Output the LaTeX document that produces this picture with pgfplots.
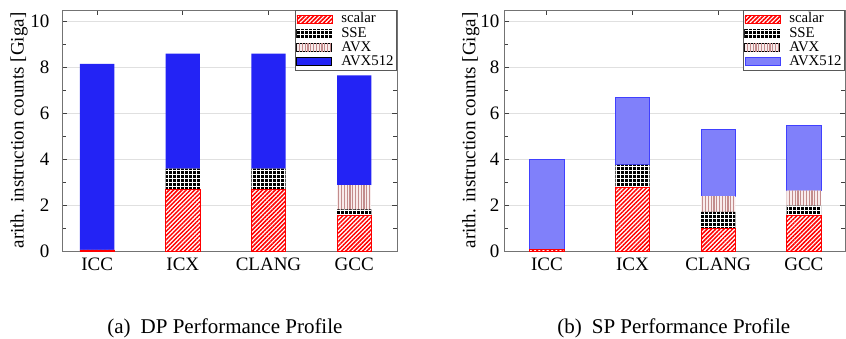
\documentclass[border=0pt]{standalone}
\usepackage{fontspec}
\setmainfont{Liberation Serif}
\usepackage{pgfplots}
\pgfplotsset{compat=1.18}
\usetikzlibrary{patterns.meta}
\definecolor{avxc}{RGB}{195,140,140}
\definecolor{avxbg}{RGB}{248,236,236}
\definecolor{dpblue}{RGB}{35,35,245}
\definecolor{spblue}{RGB}{128,128,250}
\pgfplotsset{
 layers/mylayers/.define layer set={axis background,axis grid,pre main,main,axis ticks,axis lines,axis tick labels,axis descriptions,axis foreground}{},
 sw/.style={legend image code/.code={\draw[##1] (0pt,-2pt) rectangle (17.5pt,2pt);}},
 sscalar/.style={sw, fill=white, draw=red, line width=0.3pt, postaction={pattern={Lines[angle=45,distance=1.5pt,line width=0.75pt]}, pattern color=red}},
 ssse/.style={sw, fill=black, draw=none, postaction={pattern={Hatch[angle=0,distance=2pt,line width=0.18pt]}, pattern color=white}},
 savx/.style={sw, fill=avxbg, draw=none, postaction={pattern={Lines[angle=90,distance=1.4pt,line width=0.55pt]}, pattern color=avxc}},
 base/.style={
  set layers=mylayers,
  ybar stacked, bar width=0.4,
  scale only axis, height=120.5pt,
  ymin=0, ymax=10.48,
  ytick={0,2,...,10}, minor y tick num=1,
  xtick={0,1,2,3}, xticklabels={ICC,ICX,CLANG,GCC},
  ymajorgrids, major grid style={black!12, line width=0.4pt},
  tick align=inside,
  major tick length=2.5pt, minor tick length=2pt,
  tick style={black!75, line width=0.4pt},
  axis line style={black!55, line width=0.5pt},
  tick label style={font=\fontsize{9.5}{11}\selectfont},
  /pgf/number format/assume math mode=true,
  ylabel={arith. instruction counts [Giga]},
  label style={font=\fontsize{9.5}{11}\selectfont},
  legend style={at={(1,1)}, anchor=north east, draw=black!65, line width=0.4pt,
    font=\fontsize{7.4}{8}\selectfont, inner xsep=0.5pt, inner ysep=1pt,
    nodes={inner xsep=1pt, inner ysep=0pt, text height=5.2pt, text depth=1.5pt},
    row sep=0.4pt, column sep=3.5pt},
  legend cell align=left,
 }
}
\begin{document}
\begin{tikzpicture}
\begin{axis}[base, at={(31pt,-5pt)}, anchor=north west, width=167.5pt, xmin=-0.41, xmax=3.5,
  ylabel style={at={(axis description cs:-0.128,0.5)}, anchor=center},
  yticklabel style={xshift=-2.8pt}]
\addplot[sscalar] coordinates {(0,0.05) (1,2.67) (2,2.67) (3,1.55)};
\addplot[ssse] coordinates {(0,0) (1,0.91) (2,0.91) (3,0.26)};
\addplot[savx] coordinates {(0,0) (1,0) (2,0) (3,1.05)};
\addplot[sw, fill=dpblue, draw=none] coordinates {(0,8.09) (1,5.0) (2,5.0) (3,4.78)};
\legend{scalar,SSE,AVX,AVX512}
\end{axis}
\begin{axis}[base, at={(252pt,-5pt)}, anchor=north west, width=170.5pt, xmin=-0.5, xmax=3.48,
  ylabel style={at={(axis description cs:-0.097,0.5)}, anchor=center},
  yticklabel style={xshift=1.2pt}]
\addplot[sscalar] coordinates {(0,0.07) (1,2.75) (2,1.0) (3,1.55)};
\addplot[ssse] coordinates {(0,0) (1,1.0) (2,0.7) (3,0.42)};
\addplot[savx] coordinates {(0,0) (1,0) (2,0.69) (3,0.67)};
\addplot[sw, fill=spblue, draw=blue!75, line width=0.3pt] coordinates {(0,3.93) (1,2.92) (2,2.89) (3,2.82)};
\legend{scalar,SSE,AVX,AVX512}
\end{axis}
\node[anchor=base west, inner sep=0pt, font=\fontsize{10.5}{12}\selectfont] at (53.5pt,-166.5pt) {(a)\hspace{5pt}DP Performance Profile};
\node[anchor=base west, inner sep=0pt, font=\fontsize{10.5}{12}\selectfont] at (278.5pt,-166.5pt) {(b)\hspace{5pt}SP Performance Profile};
\pgfresetboundingbox
\path[use as bounding box] (0,0) rectangle (423pt,-169pt);
\end{tikzpicture}
\end{document}
